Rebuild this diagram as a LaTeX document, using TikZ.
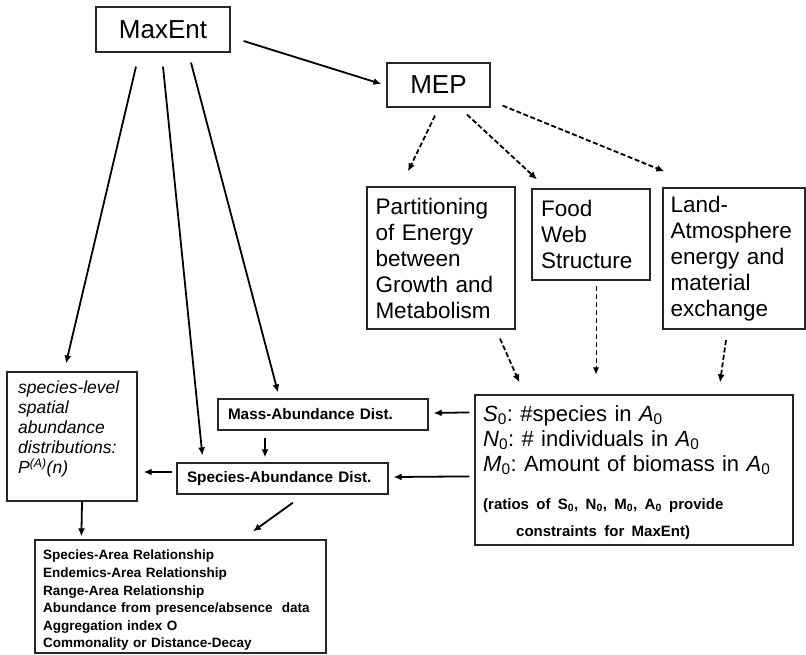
\documentclass[tikz,border=0pt]{standalone}
\usepackage{fontspec}
\setmainfont{Liberation Sans}
\usetikzlibrary{arrows.meta}
\begin{document}
\frenchspacing
\begin{tikzpicture}[x=1pt,y=-1pt,
  box/.style={draw=black!85, line width=1.2pt, inner sep=0pt},
  txt/.style={anchor=north west, inner sep=0pt, align=left},
  bigfont/.style={font=\fontsize{26}{30}\selectfont},
  midfont/.style={font=\fontsize{22.5}{26}\selectfont},
  arr/.style={line width=1.8pt, -{Latex[length=8pt,width=7pt]}},
  darr/.style={line width=1.8pt, dash pattern=on 5pt off 2.5pt, -{Latex[length=8pt,width=7pt]}},
  tarr/.style={line width=0.8pt, dash pattern=on 5pt off 3pt, -{Latex[length=7pt,width=6pt]}}]
\useasboundingbox (0,0) rectangle (806,655);

% top level
\node[box, bigfont, minimum width=134pt, minimum height=45pt] (maxent) at (163,29.5) {MaxEnt};
\node[box, bigfont, minimum width=103pt, minimum height=44pt] (mep) at (438.5,85) {MEP};

% MEP applications
\node[box, midfont, minimum width=148pt, minimum height=142pt, text width=131pt, align=left] (part) at (441,258)
  {Partitioning\\of Energy\\between\\Growth and\\Metabolism};
\node[box, midfont, minimum width=118pt, minimum height=91pt, text width=100pt, align=left] (food) at (591,234.5)
  {Food\\Web\\Structure};
\node[box, midfont, minimum width=142pt, minimum height=141pt, text width=127pt, align=left] (land) at (734,258.5)
  {Land-\\Atmosphere\\energy and\\material\\exchange};

% state variables
\node[box, minimum width=318pt, minimum height=150pt] (cons) at (634,470) {};
\node[txt, text width=302pt, font=\fontsize{22}{25}\selectfont] (constext) at (483,405)
  {\textit{S}\textsubscript{0}: \#species in \textit{A}\textsubscript{0}\\
   \textit{N}\textsubscript{0}: \# individuals in \textit{A}\textsubscript{0}\\
   \textit{M}\textsubscript{0}: Amount of biomass in \textit{A}\textsubscript{0}\\[13pt]
   {\bfseries\fontsize{15}{17}\selectfont (ratios of S\textsubscript{0}, N\textsubscript{0}, M\textsubscript{0}, A\textsubscript{0} provide}\\[2pt]
   {\bfseries\fontsize{15}{17}\selectfont\hspace*{33pt}constraints for MaxEnt)}};

% distributions
\node[box, minimum width=210pt, minimum height=31pt, text width=190pt, align=left,
      font=\bfseries\fontsize{15.3}{18}\selectfont] (mass) at (323,414.5) {Mass-Abundance Dist.};
\node[box, minimum width=211pt, minimum height=31pt, text width=191pt, align=left,
      font=\bfseries\fontsize{15.3}{18}\selectfont] (sad) at (282.5,478.5) {Species-Abundance Dist.};

\node[box, minimum width=130pt, minimum height=129pt] (sl) at (72,436.5) {};
\node[txt, text width=118pt, font=\itshape\fontsize{17.5}{20}\selectfont] (sltext) at (18,381)
  {species-level\\spatial\\abundance\\distributions:\\P\textsuperscript{(A)}(n)};

% derived patterns
\node[box, minimum width=291pt, minimum height=113pt] (pat) at (180.5,596.5) {};
\node[txt, text width=275pt, font=\bfseries\fontsize{13.5}{17.6}\selectfont] (pattext) at (43,550)
  {Species-Area Relationship\\
   Endemics-Area Relationship\\
   Range-Area Relationship\\
   Abundance from presence/absence\ \ data\\
   Aggregation index O\\
   Commonality or Distance-Decay};

% MaxEnt links
\draw[arr] ([shift={(13,11.5)}]maxent.east) -- ([shift={(-5,-1)}]mep.west);
\draw[arr] ([shift={(-27,14)}]maxent.south) -- ([shift={(-6,-8)}]sl.north);
\draw[arr] ([shift={(0,14)}]maxent.south) -- ([shift={(26,-7)}]sad.north west);
\draw[arr] ([shift={(28,10)}]maxent.south) -- ([shift={(-45,-6)}]mass.north);

% MEP links
\draw[darr] ([shift={(-3.5,8)}]mep.south) -- ([shift={(-33,-15)}]part.north);
\draw[darr] ([shift={(28.5,7)}]mep.south) -- ([shift={(-54,-9)}]food.north);
\draw[darr] ([shift={(12,-2)}]mep.south east) -- ([shift={(2,-16)}]land.north west);

% constraints from MEP applications
\draw[darr] ([shift={(59,9)}]part.south) -- ([shift={(45,-12)}]cons.north west);
\draw[tarr] ([shift={(5,5)}]food.south) -- ([shift={(-38,-20)}]cons.north);
\draw[darr] ([shift={(-8,10.5)}]land.south) -- ([shift={(86,-12)}]cons.north);

% constraints to distributions
\draw[arr] ([shift={(-5,18)}]cons.north west) -- ([shift={(5,-1.5)}]mass.east);
\draw[arr] ([shift={(-5,82)}]cons.north west) -- ([shift={(5,-1.5)}]sad.east);
\draw[arr] ([shift={(-58,7)}]mass.south) -- ([shift={(-17.5,-5)}]sad.north);
\draw[arr] ([shift={(-4,-6.5)}]sad.west) -- ([shift={(6,35.5)}]sl.east);
\draw[arr] ([shift={(10,0)}]sl.south) -- ([shift={(47,-3)}]pat.north west);
\draw[arr] ([shift={(10.5,8)}]sad.south) -- ([shift={(72.5,-8)}]pat.north);
\end{tikzpicture}
\end{document}
